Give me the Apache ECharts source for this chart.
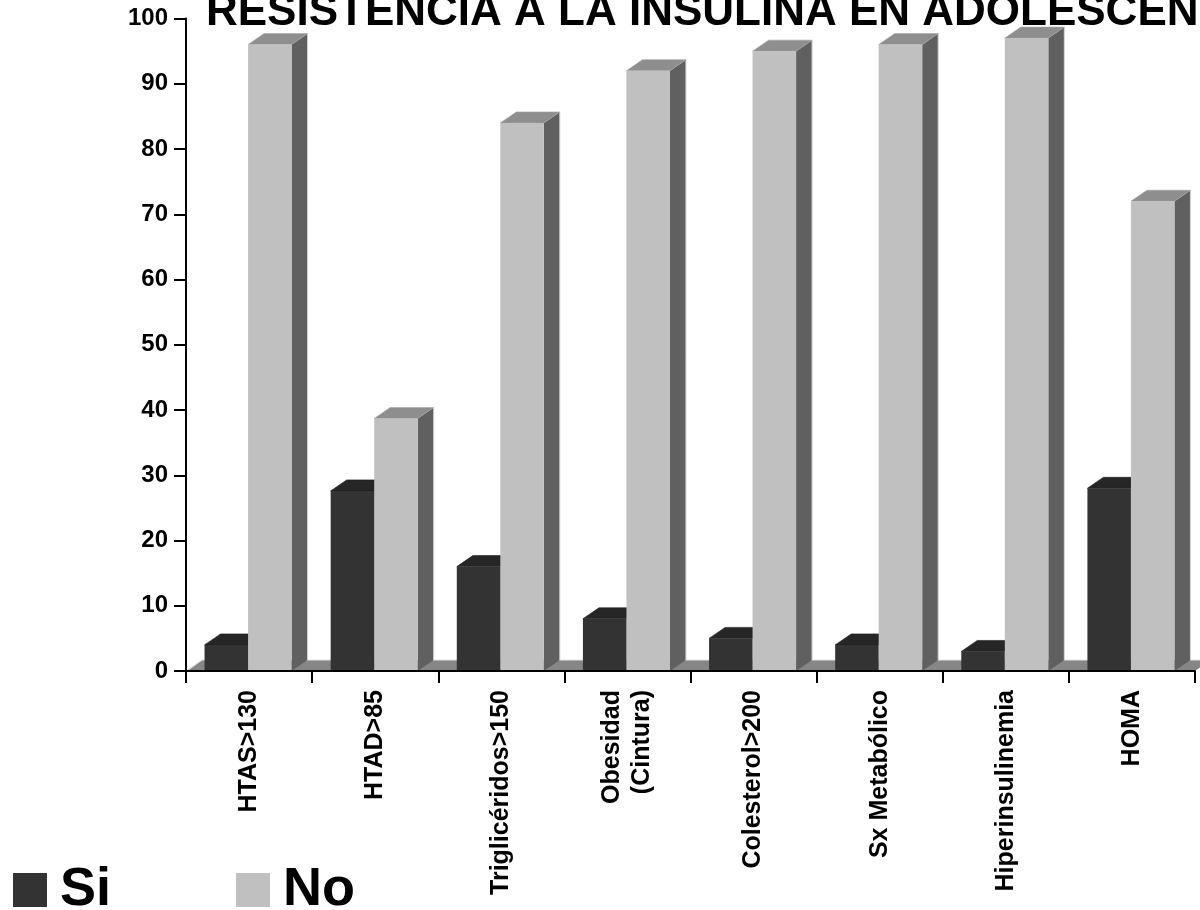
<!DOCTYPE html>
<html>
<head>
<meta charset="utf-8">
<title>Resistencia a la insulina en adolescentes</title>
<script src="https://cdn.jsdelivr.net/npm/echarts@6/dist/echarts.min.js"></script>
<style>
  html, body { margin: 0; padding: 0; background: #ffffff; }
  #chart { width: 1200px; height: 910px; }
</style>
</head>
<body>
<div id="chart"></div>
<script>
// Categories and percentages per group
const categories = ['HTAS>130', 'HTAD>85', 'Triglicéridos>150', 'Obesidad\n(Cintura)', 'Colesterol>200', 'Sx Metabólico', 'Hiperinsulinemia', 'HOMA'];
const siValues = [4, 27.6, 16, 8, 5, 4, 3, 28];
const noValues = [96, 38.7, 84, 92, 95, 96, 97, 72];
const seriesNames = ['Si', 'No'];
const titleText = 'RESISTENCIA A LA INSULINA EN ADOLESCENTES';

const FONT = '"Liberation Sans", Arial, Helvetica, sans-serif';

// Pseudo-3D depth of the boxes (pixels)
const DEPTH_X = 16;
const DEPTH_Y = 11;

const palette = {
  Si: { front: '#333333', top: '#262626', side: '#1e1e1e' },
  No: { front: '#c0c0c0', top: '#8e8e8e', side: '#606060' }
};

// Builds a renderItem that draws a box: front face, top face and right side face
function boxRenderer(colors, slot) {
  return function (params, api) {
    const cat = api.value(0);
    const val = api.value(1);
    const base = api.coord([cat, 0]);
    const peak = api.coord([cat, val]);
    const band = api.size([1, 0])[0];
    const w = band * 0.345;
    const x0 = base[0] - 1 + (slot - 1) * w;
    const x1 = x0 + w;
    const yb = base[1];
    const yt = peak[1];
    return {
      type: 'group',
      children: [
        {
          type: 'polygon',
          shape: { points: [[x1, yt], [x1 + DEPTH_X, yt - DEPTH_Y], [x1 + DEPTH_X, yb - DEPTH_Y], [x1, yb]] },
          style: { fill: colors.side }
        },
        {
          type: 'line',
          shape: { x1: x1 + DEPTH_X, y1: yt - DEPTH_Y, x2: x1 + DEPTH_X, y2: yb - DEPTH_Y },
          style: { stroke: '#d4d4d4', lineWidth: 1 }
        },
        {
          type: 'polygon',
          shape: { points: [[x0, yt], [x0 + DEPTH_X, yt - DEPTH_Y], [x1 + DEPTH_X, yt - DEPTH_Y], [x1, yt]] },
          style: { fill: colors.top, stroke: slot === 1 ? '#a4a4a4' : '#1a1a1a', lineWidth: 0.6 }
        },
        {
          type: 'rect',
          shape: { x: x0, y: yt, width: w, height: yb - yt },
          style: { fill: colors.front }
        }
      ]
    };
  };
}

// Floor slab under the boxes, spanning the whole plot width
function floorRenderer(params, api) {
  const cs = params.coordSys;
  const y = api.coord([0, 0])[1];
  const xl = cs.x, xr = cs.x + cs.width;
  return {
    type: 'group',
    children: [
      {
        type: 'polygon',
        shape: { points: [[xl, y], [xl + DEPTH_X, y - DEPTH_Y], [xr + DEPTH_X, y - DEPTH_Y], [xr, y]] },
        style: { fill: '#868686' }
      },
      {
        type: 'polyline',
        shape: { points: [[xl + 1, y], [xl + DEPTH_X, y - DEPTH_Y], [xr + DEPTH_X, y - DEPTH_Y]] },
        style: { stroke: '#e4e4e4', lineWidth: 1, fill: null }
      }
    ]
  };
}

const chart = echarts.init(document.getElementById('chart'), null, { renderer: 'canvas' });

chart.setOption({
  backgroundColor: '#ffffff',
  animation: false,
  textStyle: { fontFamily: FONT },
  graphic: [
    {
      type: 'text',
      left: 206,
      top: -9,
      z: 100,
      style: {
        text: titleText,
        fontFamily: FONT,
        fontSize: 44,
        fontWeight: 'bold',
        fill: '#000000'
      }
    }
  ],
  legend: {
    data: seriesNames,
    left: 13,
    top: 863,
    padding: 0,
    itemWidth: 34,
    itemHeight: 34,
    itemGap: 125,
    icon: 'rect',
    selectedMode: false,
    textStyle: {
      fontFamily: FONT,
      fontSize: 54,
      fontWeight: 'bold',
      color: '#000000',
      padding: [0, 0, 0, 8]
    }
  },
  grid: {
    left: 186,
    right: 5,
    top: 18.5,
    bottom: 239,
    containLabel: false
  },
  xAxis: {
    type: 'category',
    data: categories,
    boundaryGap: true,
    z: 10,
    axisLine: { show: true, lineStyle: { color: '#000000', width: 2 } },
    axisTick: { show: true, alignWithLabel: false, length: 12, lineStyle: { color: '#000000', width: 2 } },
    axisLabel: {
      interval: 0,
      rotate: 90,
      margin: 19,
      fontFamily: FONT,
      fontSize: 25,
      fontWeight: 'bold',
      lineHeight: 30,
      color: '#000000'
    },
    splitLine: { show: false }
  },
  yAxis: {
    type: 'value',
    min: 0,
    max: 100,
    interval: 10,
    z: 10,
    axisLine: { show: true, lineStyle: { color: '#000000', width: 2 } },
    axisTick: { show: true, length: 12, lineStyle: { color: '#000000', width: 2 } },
    axisLabel: {
      margin: 18,
      fontFamily: FONT,
      fontSize: 24,
      fontWeight: 'bold',
      color: '#000000'
    },
    splitLine: { show: false }
  },
  series: [
    {
      name: 'floor',
      type: 'custom',
      renderItem: floorRenderer,
      data: [[0, 0]],
      z: 1,
      silent: true,
      tooltip: { show: false }
    },
    {
      name: seriesNames[0],
      type: 'custom',
      renderItem: boxRenderer(palette.Si, 0),
      itemStyle: { color: palette.Si.front },
      encode: { x: 0, y: 1 },
      data: siValues.map((v, i) => [i, v]),
      z: 2
    },
    {
      name: seriesNames[1],
      type: 'custom',
      renderItem: boxRenderer(palette.No, 1),
      itemStyle: { color: palette.No.front },
      encode: { x: 0, y: 1 },
      data: noValues.map((v, i) => [i, v]),
      z: 3
    }
  ]
});
</script>
</body>
</html>
